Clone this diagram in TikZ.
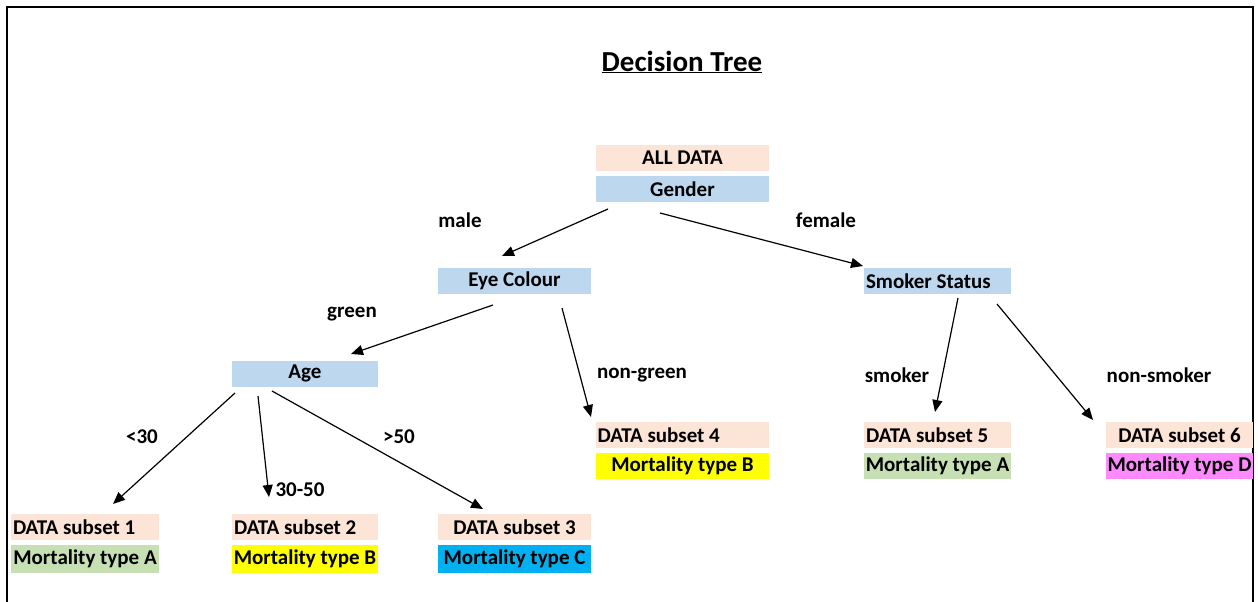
\documentclass[tikz,border=0pt]{standalone}
\usepackage{fontspec}
\setmainfont{Carlito}
\usetikzlibrary{arrows.meta}
\definecolor{peach}{HTML}{FCE4D6}
\definecolor{lblue}{HTML}{BDD7EE}
\definecolor{lgreen}{HTML}{C6E0B4}
\definecolor{yel}{HTML}{FFFF00}
\definecolor{cyanb}{HTML}{00B0F0}
\definecolor{pinkb}{HTML}{FF8AFF}
% text set flush left inside a box of the given width
\newcommand{\flushtext}[2]{\makebox[#1][l]{#2}}
\begin{document}
\begin{tikzpicture}[x=1pt,y=-1pt,
  box/.style={rectangle, inner sep=0pt, minimum height=26pt,
    font=\fontsize{21}{24}\selectfont\bfseries, text=black},
  lbl/.style={font=\fontsize{21}{24}\selectfont\bfseries, inner sep=0pt},
  conn/.style={line width=1.2pt, -{Triangle[length=12pt,width=10pt]}}]
\useasboundingbox (0,0) rectangle (1258,602);
% outer frame
\draw[line width=2pt] (7,604) -- (7,7) -- (1253,7) -- (1253,604);

% title
\node[font=\fontsize{29}{32}\selectfont\bfseries, inner sep=0pt] (title) at (682,62) {\underline{Decision Tree}};

% root
\node[box, fill=peach, minimum width=173pt] (alldata) at (682.5,158) {ALL DATA};
\node[box, fill=lblue, minimum width=173pt] (gender) at (682.5,189) {Gender};

% second level
\node[box, fill=lblue, minimum width=153pt] (eye) at (514.5,281) {Eye Colour};
\node[box, fill=lblue, minimum width=147pt] (smoker) at (937.5,281) {\flushtext{143pt}{Smoker Status}};

% third level
\node[box, fill=lblue, minimum width=146pt] (age) at (305,373.5) {Age};

% leaves under Age
\node[box, fill=peach, minimum width=148pt] (s1) at (85,527) {\flushtext{144pt}{DATA subset 1}};
\node[box, fill=lgreen, minimum width=148pt, minimum height=28pt] (m1) at (85,559) {Mortality type A};
\node[box, fill=peach, minimum width=146pt] (s2) at (305,527) {\flushtext{142pt}{DATA subset 2}};
\node[box, fill=yel, minimum width=146pt, minimum height=28pt] (m2) at (305,559) {Mortality type B};
\node[box, fill=peach, minimum width=153pt] (s3) at (514.5,527) {DATA subset 3};
\node[box, fill=cyanb, minimum width=153pt, minimum height=28pt] (m3) at (514.5,559) {Mortality type C};

% leaf under Eye Colour
\node[box, fill=peach, minimum width=173pt] (s4) at (682.5,435) {\flushtext{170pt}{DATA subset 4}};
\node[box, fill=yel, minimum width=173pt] (m4) at (682.5,466) {Mortality type B};

% leaves under Smoker Status
\node[box, fill=peach, minimum width=147pt] (s5) at (937.5,435) {\flushtext{143pt}{DATA subset 5}};
\node[box, fill=lgreen, minimum width=147pt] (m5) at (937.5,466) {Mortality type A};
\node[box, fill=peach, minimum width=147pt] (s6) at (1179.5,435) {DATA subset 6};
\node[box, fill=pinkb, minimum width=147pt] (m6) at (1179.5,466) {Mortality type D};

% branch labels
\node[lbl] (lmale) at (460,220) {male};
\node[lbl] (lfemale) at (826,220) {female};
\node[lbl] (lgreen) at (352,314) {green};
\node[lbl] (lnongreen) at (642,375) {non-green};
\node[lbl] (lsmoker) at (897,375) {smoker};
\node[lbl] (lnonsmoker) at (1159,375) {non-smoker};
\node[lbl] (llt) at (142,437) {<30};
\node[lbl] (lmid) at (300,490) {30-50};
\node[lbl] (lgt) at (399,437) {>50};

% connector end points
\coordinate (gA) at (608,209);  \coordinate (eT) at (502,256);
\coordinate (gB) at (660,213);  \coordinate (sT) at (863,266);
\coordinate (eA) at (493,305);  \coordinate (aT) at (351,354);
\coordinate (eB) at (562,308);  \coordinate (s4T) at (591,417);
\coordinate (sA) at (958,298);  \coordinate (s5T) at (935,412);
\coordinate (sB) at (997,304);  \coordinate (s6T) at (1093,420);
\coordinate (aA) at (235,393);  \coordinate (s1T) at (113,504);
\coordinate (aB) at (258,396);  \coordinate (s2T) at (269,497);
\coordinate (aC) at (272,391);  \coordinate (s3T) at (483,509);

% connectors
\draw[conn] (gA) -- (eT);
\draw[conn] (gB) -- (sT);
\draw[conn] (eA) -- (aT);
\draw[conn] (eB) -- (s4T);
\draw[conn] (sA) -- (s5T);
\draw[conn] (sB) -- (s6T);
\draw[conn] (aA) -- (s1T);
\draw[conn] (aB) -- (s2T);
\draw[conn] (aC) -- (s3T);
\end{tikzpicture}
\end{document}
